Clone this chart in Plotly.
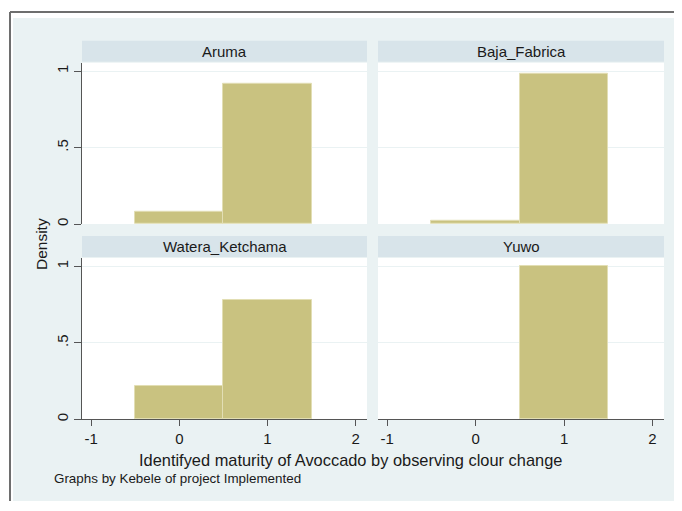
import plotly.graph_objects as go

# ---- data ----
groups = ["Aruma", "Baja_Fabrica", "Watera_Ketchama", "Yuwo"]
bin_centers = [0, 1]
bin_width = 1
density_aruma = [0.08, 0.92]
density_baja = [0.02, 0.98]
density_watera = [0.22, 0.78]
density_yuwo = [0.0, 1.0]
x_ticks = [-1, 0, 1, 2]
x_tick_text = ["-1", "0", "1", "2"]
y_ticks = [0, 0.5, 1]
y_tick_text = ["0", ".5", "1"]
x_title = "Identifyed maturity of Avoccado by observing clour change"
y_title = "Density"
note = "Graphs by Kebele of project Implemented"

densities = [density_aruma, density_baja, density_watera, density_yuwo]

OFF = 8  # page body margin
W, H = 682 - OFF, 511 - 2 * OFF
BG = "#EAF2F3"
STRIP = "#D8E4EA"
BAR = "#C9C280"
AXIS = "#555555"
TXT = "#1a1a1a"
FONT = "Liberation Sans, Arial, sans-serif"

def px(x):
    return (x - OFF) / W

def py(y):
    return 1 - (y - OFF) / H

# panel pixel boxes in window coordinates
cols = [(82, 367), (378, 664)]
rows = [(63, 225), (259, 421)]

fig = go.Figure()
shapes = []
annotations = []

# outer background and frame
shapes.append(dict(type="rect", xref="paper", yref="paper", x0=px(13), x1=1.0,
                   y0=max(py(507), 0), y1=py(18), fillcolor=BG, line=dict(width=0), layer="below"))
shapes.append(dict(type="line", xref="paper", yref="paper", x0=px(10), x1=px(10),
                   y0=0, y1=py(12), line=dict(color="#6e6e6e", width=2), layer="below"))
shapes.append(dict(type="line", xref="paper", yref="paper", x0=px(10), x1=1.0,
                   y0=py(12), y1=py(12), line=dict(color="#6e6e6e", width=2), layer="below"))

for i, g in enumerate(groups):
    r, c = divmod(i, 2)
    xl, xr = cols[c]
    yt, yb = rows[r]
    n = i + 1
    xa = "x" if n == 1 else f"x{n}"
    ya = "y" if n == 1 else f"y{n}"
    shapes.append(dict(type="rect", xref="paper", yref="paper", x0=px(xl), x1=px(xr),
                       y0=py(yb), y1=py(yt), fillcolor="white", line=dict(width=0), layer="below"))
    shapes.append(dict(type="rect", xref="paper", yref="paper", x0=px(xl), x1=px(xr),
                       y0=py(yt - 1), y1=py(yt - 22), fillcolor=STRIP, line=dict(width=0), layer="below"))
    annotations.append(dict(text=g, xref="paper", yref="paper", x=px((xl + xr) / 2),
                            y=py(yt - 11.5), showarrow=False, xanchor="center", yanchor="middle",
                            font=dict(family=FONT, size=15, color=TXT)))

    vals = densities[i]
    fig.add_trace(go.Bar(x=bin_centers, y=vals, width=bin_width,
                         marker=dict(color=BAR, line=dict(color="#E2DEB4",
                                                          width=[0 if v == 0 else 1 for v in vals])),
                         xaxis=xa, yaxis=ya, showlegend=False, hoverinfo="skip"))

    bottom = (r == 1)
    left = (c == 0)
    xkey = "xaxis" if n == 1 else f"xaxis{n}"
    ykey = "yaxis" if n == 1 else f"yaxis{n}"
    fig.layout[xkey] = dict(
        domain=[px(xl), px(xr)], anchor=ya, range=[-1.105, 2.13],
        tickvals=x_ticks, ticktext=x_tick_text, showgrid=False, zeroline=False,
        showline=bottom, linecolor=AXIS, linewidth=1,
        ticks="outside" if bottom else "", ticklen=6, tickcolor=AXIS,
        showticklabels=bottom, tickfont=dict(family=FONT, size=15, color=TXT),
        fixedrange=True)
    fig.layout[ykey] = dict(
        domain=[py(yb), py(yt)], anchor=xa, range=[0, 1.055],
        tickvals=y_ticks, ticktext=y_tick_text, showgrid=True, gridcolor=BG, gridwidth=1,
        zeroline=False, showline=left, linecolor=AXIS, linewidth=1,
        ticks="outside" if left else "", ticklen=7, tickcolor=AXIS,
        showticklabels=left, tickangle=-90, tickfont=dict(family=FONT, size=15, color=TXT),
        fixedrange=True)

annotations.append(dict(text=x_title, xref="paper", yref="paper", x=px(350.5), y=py(462),
                        showarrow=False, xanchor="center", yanchor="middle",
                        font=dict(family=FONT, size=16.4, color=TXT)))
annotations.append(dict(text=y_title, xref="paper", yref="paper", x=px(41), y=py(245),
                        showarrow=False, xanchor="center", yanchor="middle", textangle=-90,
                        font=dict(family=FONT, size=15.5, color=TXT)))
annotations.append(dict(text=note, xref="paper", yref="paper", x=px(52), y=py(480),
                        showarrow=False, xanchor="left", yanchor="middle",
                        font=dict(family=FONT, size=13.4, color=TXT)))

fig.update_layout(
    width=W, height=H, margin=dict(l=0, r=0, t=0, b=0),
    paper_bgcolor="white", plot_bgcolor="rgba(0,0,0,0)",
    shapes=shapes, annotations=annotations, bargap=0,
)

fig.write_html("out.html")
